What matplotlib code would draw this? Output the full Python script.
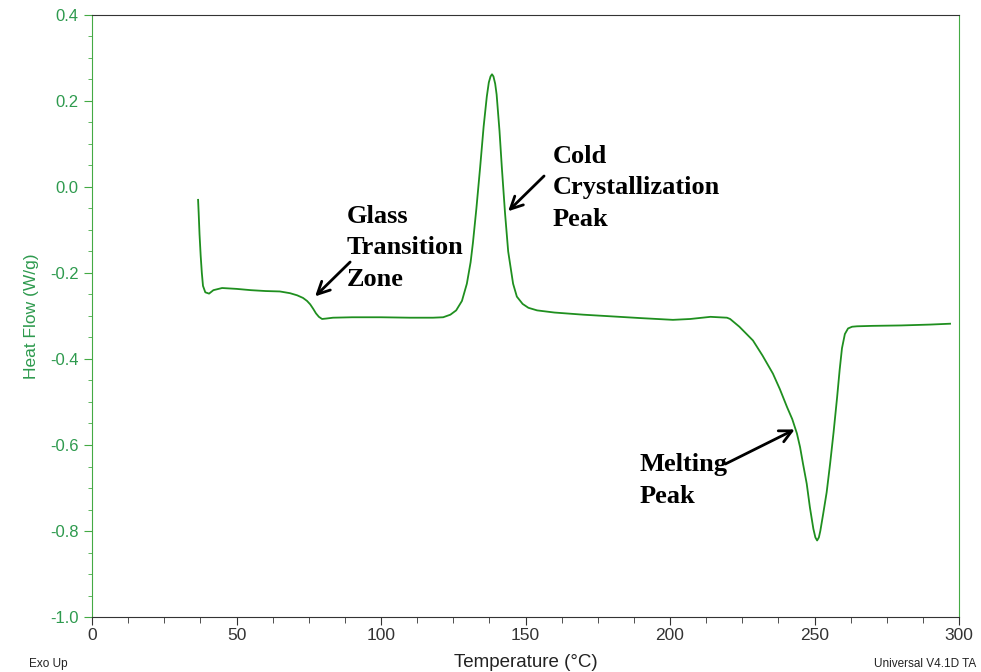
import matplotlib.pyplot as plt
from matplotlib.ticker import MultipleLocator, FormatStrFormatter

temp = [36.7, 36.9, 37.2, 37.6, 38.0, 38.4, 39.2, 40.5, 42.0, 45.0, 50, 55, 60, 65,
        68.5, 71, 73, 74.4, 75.5, 76.5, 77.5, 78.5, 79.6, 81, 83.4, 90, 100, 110,
        118, 121.5, 124, 126, 128, 129.7, 131, 131.8, 133, 134.3, 135.5, 136.6,
        137.3, 137.9, 138.4, 138.9, 139.5, 140, 141, 141.8, 142.9, 144, 145.7,
        147, 149, 151, 154, 160, 170, 180, 190, 201, 207, 214, 219.7, 220.8,
        224, 228.7, 232, 235.6, 238, 240.5, 242.3, 243.9, 245, 246, 247.3, 248.4,
        249.6, 250.3, 250.9, 251.5, 252, 253, 254.2, 255.4, 256.6, 257.8, 258.7,
        259.5, 260.5, 261.6, 263, 264.7, 270, 280, 290, 296.9]
heat_flow = [-0.03, -0.06, -0.11, -0.16, -0.20, -0.23, -0.245, -0.248, -0.240,
             -0.235, -0.237, -0.240, -0.242, -0.243, -0.247, -0.252, -0.258,
             -0.265, -0.273, -0.283, -0.294, -0.302, -0.307, -0.306, -0.304,
             -0.303, -0.303, -0.304, -0.304, -0.303, -0.297, -0.287, -0.265,
             -0.225, -0.175, -0.13, -0.05, 0.046, 0.14, 0.21, 0.243, 0.257,
             0.262, 0.257, 0.24, 0.215, 0.13, 0.046, -0.06, -0.15, -0.225,
             -0.255, -0.272, -0.281, -0.287, -0.292, -0.297, -0.301, -0.305,
             -0.309, -0.307, -0.302, -0.304, -0.307, -0.325, -0.357, -0.392,
             -0.434, -0.47, -0.512, -0.54, -0.573, -0.605, -0.643, -0.69,
             -0.745, -0.795, -0.815, -0.822, -0.815, -0.8, -0.76, -0.71, -0.643,
             -0.57, -0.49, -0.425, -0.375, -0.342, -0.329, -0.325, -0.324,
             -0.323, -0.322, -0.320, -0.318]

# Anotaciones: texto, posicion del texto, cola y punta de la flecha
notes = ["Glass\nTransition\nZone", "Cold\nCrystallization\nPeak", "Melting\nPeak"]
note_pos = [(88.2, -0.042), (159.5, 0.098), (189.3, -0.619)]
arrow_tail = [(90, -0.170), (157.1, 0.030), (218.3, -0.647)]
arrow_head = [(76.5, -0.259), (143.3, -0.061), (244, -0.561)]

green = '#1f8f1f'
axis_green = '#2e9a4e'

plt.rcParams['font.family'] = ['Liberation Sans', 'DejaVu Sans']

fig = plt.figure(figsize=(9.81, 6.72), dpi=100)
ax = fig.add_axes([0.0938, 0.0818, 0.8838, 0.896])

ax.plot(temp, heat_flow, color=green, lw=1.3)

ax.set_xlim(0, 300)
ax.set_ylim(-1.0, 0.4)
ax.xaxis.set_major_locator(MultipleLocator(50))
ax.xaxis.set_minor_locator(MultipleLocator(12.5))
ax.yaxis.set_major_locator(MultipleLocator(0.2))
ax.yaxis.set_minor_locator(MultipleLocator(0.05))
ax.yaxis.set_major_formatter(FormatStrFormatter('%.1f'))

ax.spines['left'].set_color('#44aa44')
ax.spines['right'].set_color('#44aa44')
ax.spines['top'].set_color('#333333')
ax.spines['bottom'].set_color('#333333')

ax.tick_params(axis='y', which='major', colors='#44aa44', labelcolor=axis_green,
               labelsize=12, length=6)
ax.tick_params(axis='y', which='minor', colors='#44aa44', length=3)
ax.tick_params(axis='x', which='major', colors='#333333', labelcolor='#333333',
               labelsize=12.5, length=6, pad=2)
ax.tick_params(axis='x', which='minor', colors='#333333', length=4)

ax.set_ylabel('Heat Flow (W/g)', color=axis_green, fontsize=12.5, labelpad=8)
ax.set_xlabel('Temperature (°C)', color='#222222', fontsize=13.5, labelpad=8)

fig.text(0.030, 0.008, 'Exo Up', fontsize=8.5, color='#222222')
fig.text(0.995, 0.008, 'Universal V4.1D TA', fontsize=8.5, color='#222222',
         ha='right')

for txt, pos, tail, head in zip(notes, note_pos, arrow_tail, arrow_head):
    ax.text(pos[0], pos[1], txt, fontsize=19, fontweight='bold',
            family=['Liberation Serif', 'DejaVu Serif'], va='top', ha='left',
            linespacing=1.47)
    ax.annotate('', xy=head, xytext=tail,
                arrowprops=dict(arrowstyle='->', lw=2, color='black',
                                mutation_scale=22))

plt.savefig('out.png', dpi=100)
